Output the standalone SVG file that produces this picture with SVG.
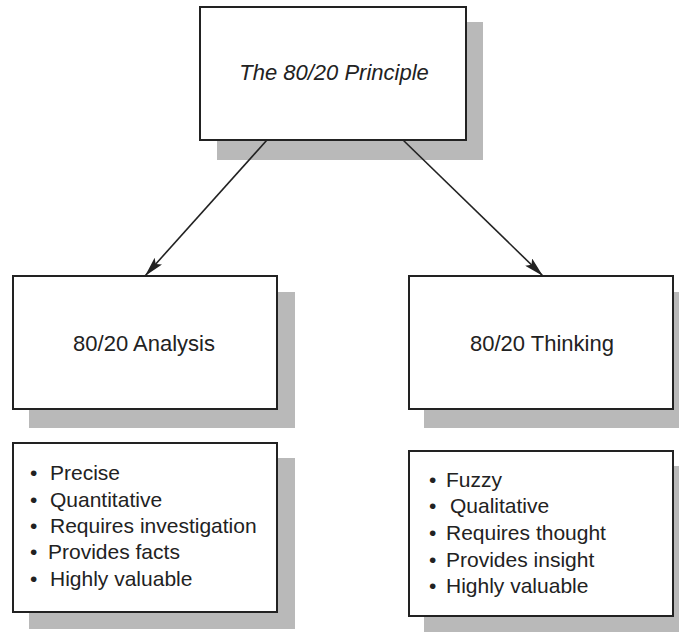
<svg xmlns="http://www.w3.org/2000/svg" width="679" height="632" viewBox="0 0 679 632">
<style>
.box{fill:#fff;stroke:#222;stroke-width:2}
.shadow{fill:#b9b9b9}
.t{font-family:"Liberation Sans",Arial,sans-serif;font-size:21px;fill:#222}
.h{font-size:22px}
.c{text-anchor:middle}
.conn{stroke:#222;stroke-width:1.6;fill:none}
</style>
<defs>
<marker id="ah" viewBox="0 0 20 10" refX="20" refY="5" markerWidth="20" markerHeight="10" markerUnits="userSpaceOnUse" orient="auto">
<path d="M0,0 L20,5 L0,10 L4,5 Z" fill="#222"/>
</marker>
</defs>
<rect width="679" height="632" fill="#fff"/>
<g id="principle">
<rect class="shadow" x="217" y="22" width="266" height="138"/>
<rect class="box" x="200" y="7" width="266" height="133"/>
<text class="t h c" x="334" y="80" font-style="italic">The 80/20 Principle</text>
</g>
<g id="analysis">
<rect class="shadow" x="29" y="292" width="266" height="136"/>
<rect class="box" x="13" y="276" width="264" height="133"/>
<text class="t h c" x="144" y="351">80/20 Analysis</text>
</g>
<g id="thinking">
<rect class="shadow" x="424" y="292" width="266" height="136"/>
<rect class="box" x="409" y="276" width="264" height="133"/>
<text class="t h c" x="542" y="351">80/20 Thinking</text>
</g>
<g id="analysis-list">
<rect class="shadow" x="29" y="458" width="266" height="171"/>
<rect class="box" x="13" y="443" width="264" height="169"/>
<text class="t" x="30" y="480">•</text><text class="t" x="50" y="480">Precise</text>
<text class="t" x="30" y="507">•</text><text class="t" x="50" y="507">Quantitative</text>
<text class="t" x="30" y="533">•</text><text class="t" x="50" y="533">Requires investigation</text>
<text class="t" x="30" y="559">•</text><text class="t" x="48" y="559">Provides facts</text>
<text class="t" x="30" y="586">•</text><text class="t" x="50" y="586">Highly valuable</text>
</g>
<g id="thinking-list">
<rect class="shadow" x="424" y="466" width="266" height="170"/>
<rect class="box" x="409" y="451" width="264" height="165"/>
<text class="t" x="429" y="487">•</text><text class="t" x="446" y="487">Fuzzy</text>
<text class="t" x="429" y="513">•</text><text class="t" x="450" y="513">Qualitative</text>
<text class="t" x="429" y="540">•</text><text class="t" x="446" y="540">Requires thought</text>
<text class="t" x="429" y="567">•</text><text class="t" x="446" y="567">Provides insight</text>
<text class="t" x="429" y="593">•</text><text class="t" x="446" y="593">Highly valuable</text>
</g>
<g id="connectors">
<line class="conn" x1="267" y1="140" x2="145" y2="276" marker-end="url(#ah)"/>
<line class="conn" x1="403" y1="140" x2="543" y2="276" marker-end="url(#ah)"/>
</g>
</svg>
